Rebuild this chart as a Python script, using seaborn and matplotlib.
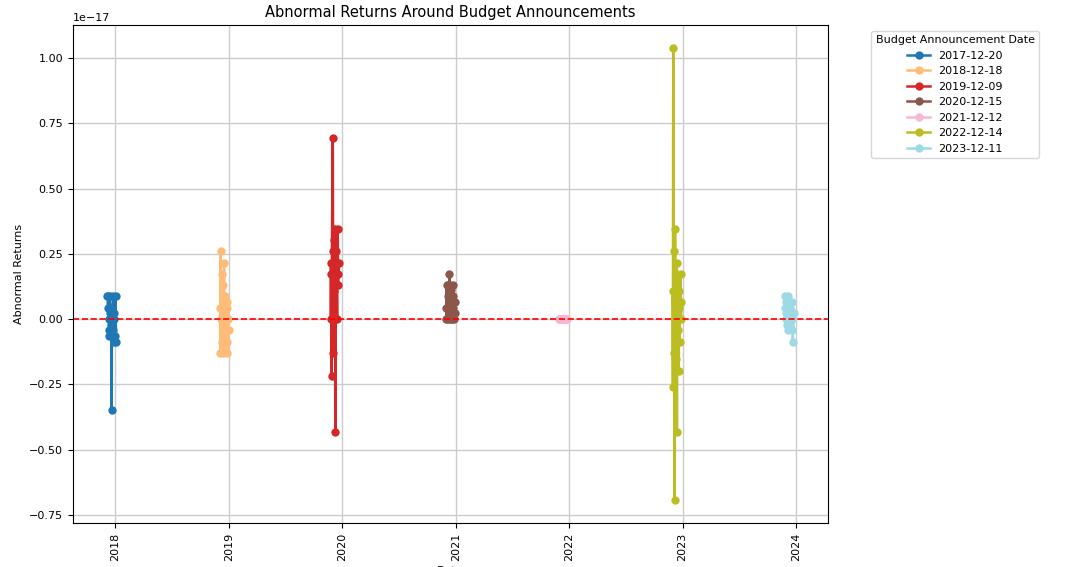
import numpy as np
import pandas as pd
import matplotlib
matplotlib.use("Agg")
import matplotlib.pyplot as plt
import seaborn as sns

# budget announcement dates and abnormal returns (units of 1e-17) in a +/-10 business day window
events = ['2017-12-20', '2018-12-18', '2019-12-09', '2020-12-15',
          '2021-12-12', '2022-12-14', '2023-12-11']
window = list(range(-10, 11))

ar_2017 = [0.087, 0.087, 0.043, 0.0, -0.043, -0.065, 0.087, 0.022, -0.022, 0.0, -0.347,
           -0.065, 0.043, 0.087, -0.043, 0.0, -0.087, 0.022, -0.065, 0.087, -0.087]
ar_2018 = [0.043, -0.13, 0.26, 0.0, -0.087, 0.173, -0.043, 0.13, -0.13, 0.217, 0.022,
           -0.065, 0.087, -0.11, 0.0, 0.043, -0.087, 0.065, -0.13, 0.0, -0.043]
ar_2019 = [0.217, 0.0, 0.173, -0.217, 0.217, 0.694, 0.26, -0.13, 0.304, 0.108, 0.347,
           -0.434, 0.217, 0.173, 0.26, 0.0, 0.217, 0.347, 0.13, 0.173, 0.217]
ar_2020 = [0.0, 0.043, 0.13, 0.0, 0.087, 0.13, 0.065, 0.0, 0.173, 0.043, 0.13,
           0.0, 0.065, 0.11, 0.0, 0.087, 0.043, 0.13, 0.0, 0.065, 0.022]
ar_2021 = [0.0] * 21
ar_2022 = [0.109, -0.26, 1.041, -0.13, 0.26, -0.694, 0.347, 0.0, -0.154, 0.217, -0.434,
           0.173, -0.043, 0.0, -0.2, 0.109, 0.043, -0.087, 0.173, 0.0, 0.065]
ar_2023 = [0.043, 0.087, 0.022, 0.065, 0.0, -0.022, 0.043, 0.087, -0.043, 0.022, 0.0,
           0.065, -0.022, 0.043, 0.0, 0.022, -0.043, 0.065, 0.0, -0.087, 0.022]
all_ar = [ar_2017, ar_2018, ar_2019, ar_2020, ar_2021, ar_2022, ar_2023]

colors = plt.cm.tab20(np.linspace(0, 1, len(events)))

fig = plt.figure(figsize=(10.65, 5.67), dpi=100)
ax = fig.add_axes([0.0685, 0.078, 0.709, 0.878])

for ev, ar, c in zip(events, all_ar, colors):
    d0 = pd.Timestamp(ev)
    dates = [d0 + pd.offsets.BDay(k) for k in window]
    df = pd.DataFrame({'Date': dates, 'AR': np.array(ar) * 1e-17})
    sns.lineplot(data=df, x='Date', y='AR', ax=ax, color=c, marker='o',
                 markersize=6, markeredgewidth=0, linewidth=1.8, label=ev)

ax.axhline(0, color='red', linestyle='--', linewidth=1.2)
ax.grid(True, color='#cccccc', linewidth=1)
ax.set_title('Abnormal Returns Around Budget Announcements', fontsize=10.5)
ax.set_xlabel('Date', fontsize=8)
ax.set_ylabel('Abnormal Returns', fontsize=8)
ax.tick_params(axis='both', labelsize=8)
ax.tick_params(axis='x', rotation=90)
ax.yaxis.get_offset_text().set_fontsize(8)
ax.legend(title='Budget Announcement Date', bbox_to_anchor=(1.05, 1), loc='upper left',
          fontsize=8, title_fontsize=8)

fig.savefig('out.png', dpi=100)
